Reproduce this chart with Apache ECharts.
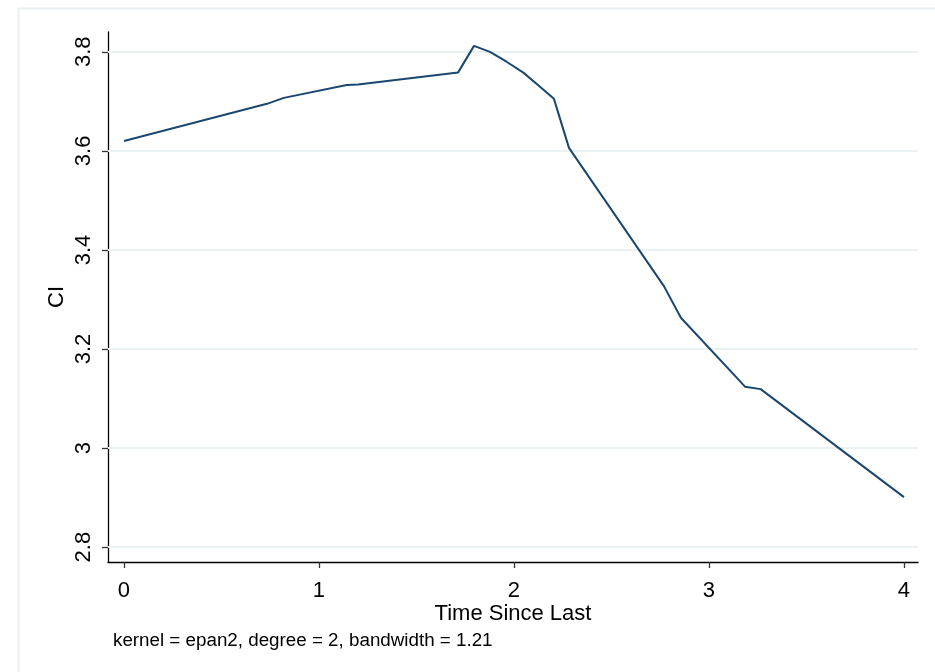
<!DOCTYPE html>
<html>
<head>
<meta charset="utf-8">
<script src="https://cdn.jsdelivr.net/npm/echarts@6/dist/echarts.min.js"></script>
<style>
    html, body { margin: 0; padding: 0; background: #fff; }
    #main { width: 935px; height: 672px; }
</style>
</head>
<body>
<div id="main"></div>
<script>
// lpoly smooth
const timeSince = [0, 0.733, 0.82, 1.142, 1.2, 1.713, 1.795, 1.877, 1.962, 2.048, 2.123, 2.205, 2.282, 2.769, 2.856, 3.185, 3.265, 4]
const ciValues = [3.620, 3.695, 3.707, 3.733, 3.734, 3.758, 3.812, 3.800, 3.780, 3.758, 3.733, 3.705, 3.606, 3.327, 3.263, 3.124, 3.119, 2.901]

const xTicks = [0, 1, 2, 3, 4]
const yTicks = [2.8, 3, 3.2, 3.4, 3.6, 3.8]

const noteText = 'kernel = epan2, degree = 2, bandwidth = 1.21'

const font = 'Liberation Sans, Arial, sans-serif'
const myChart = echarts.init(document.getElementById('main'))

let points = []
for (let i = 0; i < timeSince.length; i++) {
    points.push([timeSince[i], ciValues[i]])
}

myChart.setOption({
    animation: false,
    backgroundColor: '#fff',
    grid: { left: 108, top: 32, width: 810, height: 530 },
    graphic: [
        {
            type: 'rect',
            shape: { x: 18.5, y: 8.5, width: 940, height: 700 },
            style: { fill: null, stroke: '#e9eff2', lineWidth: 2 },
            silent: true
        },
        {
            type: 'text',
            left: 113,
            top: 631,
            style: { text: noteText, fontFamily: font, fontSize: 18.8, fill: '#000' }
        }
    ],
    xAxis: {
        type: 'value',
        min: -0.082,
        max: 4.072,
        name: 'Time Since Last',
        nameLocation: 'middle',
        nameGap: 41,
        nameMoveOverlap: false,
        nameTextStyle: { fontFamily: font, fontSize: 22, color: '#000' },
        axisLine: { show: true, onZero: false, lineStyle: { color: '#000', width: 1.3 } },
        axisTick: { show: true, length: 6, customValues: xTicks, lineStyle: { color: '#333', width: 1.3 } },
        axisLabel: { customValues: xTicks, margin: 18, fontFamily: font, fontSize: 22, color: '#000' },
        splitLine: { show: false }
    },
    yAxis: {
        type: 'value',
        min: 2.77,
        max: 3.84,
        name: 'CI',
        nameLocation: 'middle',
        nameGap: 40,
        nameMoveOverlap: false,
        nameRotate: 90,
        nameTextStyle: { fontFamily: font, fontSize: 22, color: '#000' },
        axisLine: { show: true, onZero: false, lineStyle: { color: '#000', width: 1.3 } },
        axisTick: { show: true, length: 6, customValues: yTicks, lineStyle: { color: '#333', width: 1.3 } },
        axisLabel: {
            customValues: yTicks, rotate: 90, margin: 13,
            fontFamily: font, fontSize: 22, color: '#000',
            formatter: function (v) { return String(Math.round(v * 10) / 10) }
        },
        splitLine: { show: false }
    },
    series: [
        {
            type: 'line',
            data: points,
            showSymbol: false,
            lineStyle: { color: '#1a476f', width: 2 },
            z: 3,
            markLine: {
                silent: true,
                symbol: ['none', 'none'],
                label: { show: false },
                lineStyle: { color: '#eaf1f3', width: 2, type: 'solid' },
                data: yTicks.map(function (t) { return { yAxis: t } }),
                z: 1
            }
        }
    ]
})
</script>
</body>
</html>
